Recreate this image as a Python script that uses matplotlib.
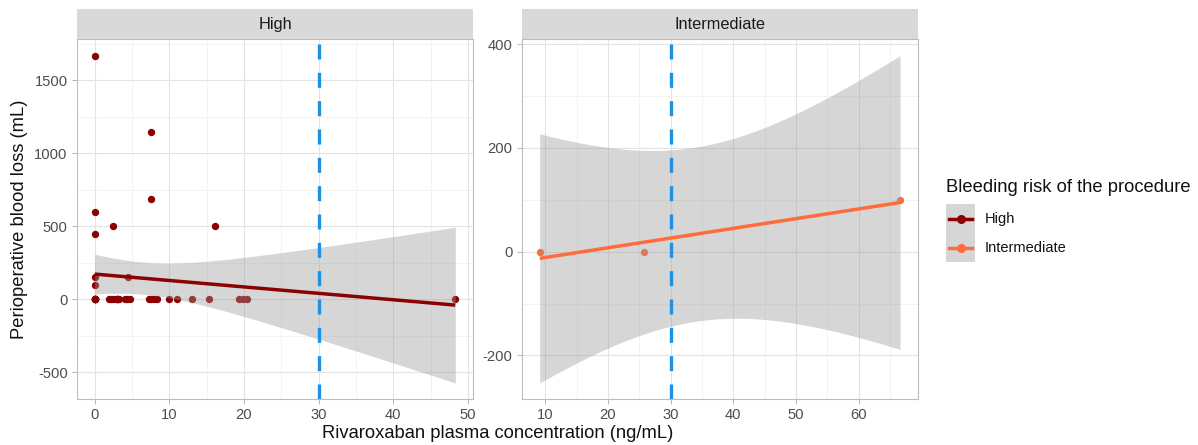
import math
import numpy as np
import matplotlib
matplotlib.use("Agg")
import matplotlib.pyplot as plt
from matplotlib.lines import Line2D
from matplotlib.patches import Rectangle
from matplotlib.ticker import MultipleLocator

plt.rcParams['font.family'] = ['Liberation Sans', 'DejaVu Sans']
plt.rcParams['axes.unicode_minus'] = False

# data (several points at 0 mL overlap)
high_conc = [0, 7.5, 7.5, 0, 2.4, 16.1, 0, 0, 0, 4.4,
             0, 0, 0, 0, 0, 0, 0, 0, 1.9, 2.2, 2.5, 3.0, 3.0, 3.0, 3.0, 3.3,
             4.0, 4.3, 4.7, 7.3, 7.6, 8.0, 8.3, 9.9, 11.0, 13.0, 15.3,
             19.3, 19.9, 20.4, 48.3]
high_loss = [1670, 1150, 690, 600, 500, 500, 450, 150, 100, 150,
             0, 0, 0, 0, 0, 0, 0, 0, 0, 0, 0, 0, 0, 0, 0, 0,
             0, 0, 0, 0, 0, 0, 0, 0, 0, 0, 0,
             0, 0, 0, 0]
inter_conc = [9.1, 25.7, 66.6]
inter_loss = [0, 0, 100]

groups = ["High", "Intermediate"]
colors = {"High": "#8B0000", "Intermediate": "#FF6B3A"}
threshold = 30

W, H = 1198, 445


def t_quantile(df, p=0.975):
    # student t quantile by bisection on a numerically integrated pdf
    c = math.exp(math.lgamma((df + 1) / 2) - math.lgamma(df / 2)) / math.sqrt(df * math.pi)

    def cdf(t):
        g = np.linspace(0, t, 20001)
        f = c * (1 + g ** 2 / df) ** (-(df + 1) / 2)
        return 0.5 + np.trapezoid(f, g)

    lo, hi = 0.0, 100.0
    for _ in range(60):
        mid = (lo + hi) / 2
        if cdf(mid) < p:
            lo = mid
        else:
            hi = mid
    return (lo + hi) / 2


def lm_band(x, y, n_out=80):
    x = np.asarray(x, float)
    y = np.asarray(y, float)
    n = len(x)
    xm = x.mean()
    sxx = ((x - xm) ** 2).sum()
    b = ((x - xm) * (y - y.mean())).sum() / sxx
    a = y.mean() - b * xm
    s = math.sqrt(((y - a - b * x) ** 2).sum() / (n - 2))
    xs = np.linspace(x.min(), x.max(), n_out)
    fit = a + b * xs
    hw = t_quantile(n - 2) * s * np.sqrt(1 / n + (xs - xm) ** 2 / sxx)
    return xs, fit, fit - hw, fit + hw


def px(l, t, r, b):
    return [l / W, 1 - b / H, (r - l) / W, (b - t) / H]


fig = plt.figure(figsize=(W / 100, H / 100), dpi=100)

panels = [
    ("High", high_conc, high_loss, (76.7, 473.3), 500, 10),
    ("Intermediate", inter_conc, inter_loss, (521.7, 918), 200, 10),
]

for name, xc, yc, (l, r), ystep, xstep in panels:
    ax = fig.add_axes(px(l, 39.3, r, 399.3))
    col = colors[name]
    xs, fit, lo, hi = lm_band(xc, yc)

    ax.scatter(xc, yc, s=28, color=col, linewidths=0, zorder=2)
    ax.fill_between(xs, lo, hi, color="#999999", alpha=0.4, linewidth=0, zorder=3)
    ax.plot(xs, fit, color=col, lw=2.5, zorder=4, solid_capstyle="butt")
    ax.axvline(threshold, color="#1E90E6", lw=2.4, dashes=(4.5, 4), zorder=5)

    xmin, xmax = min(xc), max(xc)
    ymin, ymax = min(min(yc), lo.min()), max(max(yc), hi.max())
    dx, dy = (xmax - xmin) * 0.05, (ymax - ymin) * 0.05
    ax.set_xlim(xmin - dx, xmax + dx)
    ax.set_ylim(ymin - dy, ymax + dy)

    ax.xaxis.set_major_locator(MultipleLocator(xstep))
    ax.xaxis.set_minor_locator(MultipleLocator(xstep / 2))
    ax.yaxis.set_major_locator(MultipleLocator(ystep))
    ax.yaxis.set_minor_locator(MultipleLocator(ystep / 2))
    ax.grid(which="major", color="#E3E3E3", lw=0.8)
    ax.grid(which="minor", color="#F1F1F1", lw=0.6)
    ax.set_axisbelow(True)
    for sp in ax.spines.values():
        sp.set_color("#BDBDBD")
        sp.set_linewidth(0.8)
    ax.tick_params(which="major", length=3.5, width=0.7, color="#B3B3B3",
                   labelsize=10.6, labelcolor="#4D4D4D", pad=3)
    ax.tick_params(which="minor", length=0)

    strip = fig.add_axes(px(l, 9.3, r, 39.3))
    strip.set_facecolor("#D9D9D9")
    strip.set_xticks([])
    strip.set_yticks([])
    for sp in strip.spines.values():
        sp.set_visible(False)
    strip.text(0.5, 0.5, name, ha="center", va="center", fontsize=11.8, color="#1A1A1A")

fig.text(497.5 / W, 1 - 433 / H, "Rivaroxaban plasma concentration (ng/mL)",
         ha="center", va="center", fontsize=13.2, color="#111111")
fig.text(20 / W, 1 - 219 / H, "Perioperative blood loss (mL)", rotation=90,
         ha="center", va="center", fontsize=13.2, color="#111111")

# legend drawn in a pixel-space overlay
lg = fig.add_axes([0, 0, 1, 1], facecolor="none")
lg.set_xlim(0, W)
lg.set_ylim(H, 0)
lg.axis("off")
lg.text(946, 187, "Bleeding risk of the procedure", ha="left", va="center",
        fontsize=13.2, color="#111111")
key_h = 29
lg.add_patch(Rectangle((946, 204), 29, key_h * len(groups), facecolor="#D6D6D6",
                       edgecolor="none"))
for i, g in enumerate(groups):
    yk = 204 + key_h * (i + 0.5)
    lg.add_line(Line2D([949, 972], [yk, yk], color=colors[g], lw=2.5))
    lg.add_line(Line2D([960.5], [yk], color=colors[g], marker="o", ms=5.5, lw=0))
    lg.text(985, yk, g, ha="left", va="center", fontsize=10.5, color="#111111")

fig.savefig("out.png", dpi=100, facecolor="white")
